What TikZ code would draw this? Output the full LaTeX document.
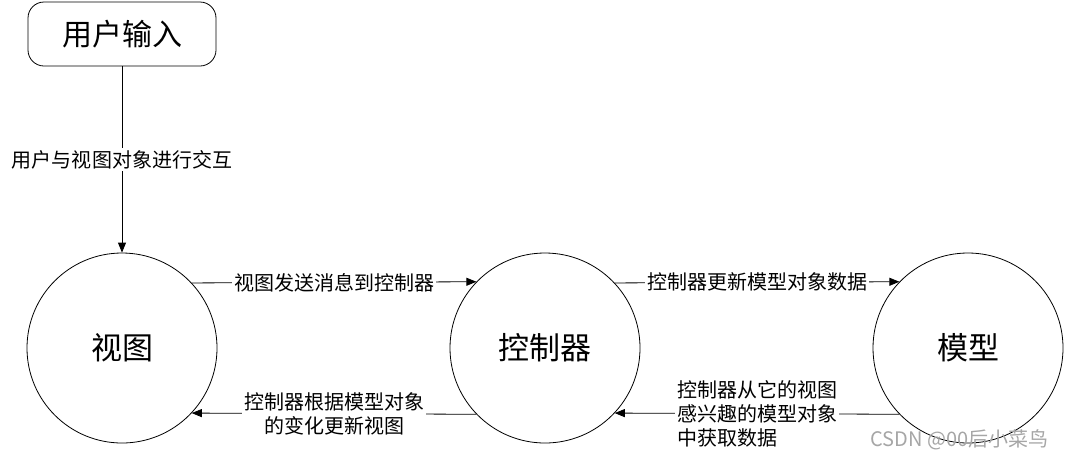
\documentclass[tikz,border=0pt]{standalone}
\usepackage{fontspec}
\setmainfont{Noto Sans CJK SC}
\usepackage{tikz}
\usetikzlibrary{shapes,arrows.meta}
\tikzset{ell/.style={circle,draw,line width=0.8pt,minimum size=190pt,inner sep=0pt,font=\fontsize{31}{33}\selectfont},
  inbox/.style={rectangle,rounded corners=16pt,draw,line width=0.8pt,minimum width=188pt,minimum height=64pt,font=\fontsize{30}{32}\selectfont},
  lab/.style={fill=white,inner sep=2pt,font=\fontsize{20}{24}\selectfont}}

\begin{document}
\begin{tikzpicture}[x=1pt,y=-1pt,>={Triangle[length=10pt,width=8pt]},line width=0.8pt]
        \useasboundingbox (0,0) rectangle (1065,459);
        \node[inbox] (in) at (122,34) {用户输入};
        \node[ell] (view) at (122,348) {视图};
        \node[ell] (ctrl) at (545,348) {控制器};
        \node[ell] (model) at (968,348) {模型};

        \draw [->] (in) to []node[lab]{用户与视图对象进行交互} (view);
        \draw [->] (view.43.2) to []node[lab]{视图发送消息到控制器} (ctrl.136.8);
        \draw [->] (ctrl.43.2) to []node[lab]{控制器更新模型对象数据} (model.136.8);
        \draw [->] (ctrl.-136.8) to []node[lab,align=center]{控制器根据模型对象\\的变化更新视图} (view.-43.2);
        \draw [->] (model.-136.8) to []node[lab,align=left]{控制器从它的视图\\感兴趣的模型对象\\中获取数据} (ctrl.-43.2);

        \node[text=black!35,font=\fontsize{20}{22}\selectfont,anchor=east] (wm) at (1052,440) {CSDN @00后小菜鸟};
    \end{tikzpicture}
\end{document}
